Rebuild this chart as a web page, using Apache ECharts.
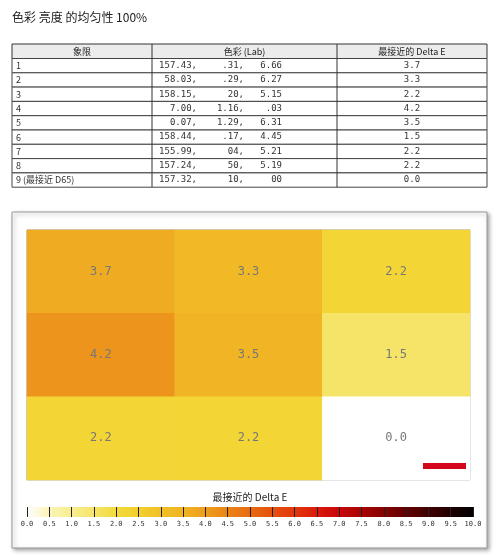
<!DOCTYPE html>
<html><head><meta charset="utf-8">
<script src="https://cdn.jsdelivr.net/npm/echarts@6/dist/echarts.min.js"></script>
<style>html,body{margin:0;padding:0;background:#fff}#main{width:500px;height:555px}</style>
</head><body><div id="main"></div>
<script>
var headers = ['象限', '色彩 (Lab)', '最接近的 Delta E'];
var quadrants = ['1', '2', '3', '4', '5', '6', '7', '8', '9 (最接近 D65)'];
var labL = ['157.43,', '58.03,', '158.15,', '7.00,', '0.07,', '158.44,', '155.99,', '157.24,', '157.32,'];
var labA = ['.31,', '.29,', '20,', '1.16,', '1.29,', '.17,', '04,', '50,', '10,'];
var labB = ['6.66', '6.27', '5.15', '.03', '6.31', '4.45', '5.21', '5.19', '00'];
var deltaE = ['3.7', '3.3', '2.2', '4.2', '3.5', '1.5', '2.2', '2.2', '0.0'];
// grid of delta E, rows top to bottom
var gridVals = [[3.7, 3.3, 2.2], [4.2, 3.5, 1.5], [2.2, 2.2, 0.0]];
var scaleColors = ['#ffffff','#fbf4b8','#f8ee90','#f5e468','#f3da3c','#f2cf2c','#f1c126','#f0b424','#ee9e1e','#ea8416','#e86a10','#e5520e','#e2380c','#da1a0a','#c80808','#a80505','#840303','#600202','#400101','#200000','#000000'];

var chart = echarts.init(document.getElementById('main'));
var g = [];
g.push({type:'text', left:12, top:11, style:{text:'色彩 亮度 的均匀性 100%', font:'12px "Noto Sans CJK SC"', fill:'#222'}});
var tx = 12, ty = 44, tw = 475, hh = 14.5, rh = 14.3;
var colX = [12, 152, 337, 487];
g.push({type:'rect', shape:{x:tx, y:ty, width:tw, height:hh}, style:{fill:'#ececec', stroke:'#333', lineWidth:1}});
for (var c = 0; c < 3; c++) {
  g.push({type:'text', x:(colX[c]+colX[c+1])/2, y:ty+hh/2, style:{text:headers[c], font:'9px "Noto Sans CJK SC"', fill:'#222', align:'center', verticalAlign:'middle'}});
}
for (var i = 0; i < quadrants.length; i++) {
  var y = ty + hh + i*rh;
  g.push({type:'rect', shape:{x:tx, y:y, width:tw, height:rh}, style:{fill:'#fff', stroke:'#444', lineWidth:1}});
  g.push({type:'text', x:16, y:y+rh/2, style:{text:quadrants[i], font:'9px "Noto Sans CJK SC"', fill:'#333', verticalAlign:'middle'}});
  g.push({type:'text', x:197, y:y+rh/2, style:{text:labL[i], font:'9px "DejaVu Sans Mono"', fill:'#333', align:'right', verticalAlign:'middle'}});
  g.push({type:'text', x:244, y:y+rh/2, style:{text:labA[i], font:'9px "DejaVu Sans Mono"', fill:'#333', align:'right', verticalAlign:'middle'}});
  g.push({type:'text', x:282, y:y+rh/2, style:{text:labB[i], font:'9px "DejaVu Sans Mono"', fill:'#333', align:'right', verticalAlign:'middle'}});
  g.push({type:'text', x:412, y:y+rh/2, style:{text:deltaE[i], font:'9px "DejaVu Sans Mono"', fill:'#333', align:'center', verticalAlign:'middle'}});
}
for (var c = 1; c < 3; c++) {
  g.push({type:'line', shape:{x1:colX[c], y1:ty, x2:colX[c], y2:ty+hh+9*rh}, style:{stroke:'#333', lineWidth:1}});
}
// chart frame
g.push({type:'rect', z:-10, shape:{x:12, y:212, width:475, height:336}, style:{fill:'#fff', stroke:'#999', lineWidth:1, shadowBlur:4, shadowOffsetX:2, shadowOffsetY:2, shadowColor:'rgba(0,0,0,0.35)'}});
g.push({type:'rect', z:100, shape:{x:423, y:463, width:43, height:6}, style:{fill:'#d4061c'}});
g.push({type:'text', x:250, y:497, style:{text:'最接近的 Delta E', font:'10px "Noto Sans CJK SC"', fill:'#222', align:'center', verticalAlign:'middle'}});

var heat = [];
for (var r = 0; r < 3; r++) for (var c = 0; c < 3; c++) heat.push([c, r, gridVals[r][c]]);
var stops = scaleColors.map(function (col, k) { return {offset:k/(scaleColors.length-1), color:col}; });

chart.setOption({
  animation:false,
  graphic:g,
  grid:[
    {left:27, right:30, top:230, height:250, show:true, borderColor:'#999', borderWidth:1},
    {left:27, right:27, top:507, height:10, show:true, borderWidth:0,
     backgroundColor:{type:'linear', x:0, y:0, x2:1, y2:0, colorStops:stops}}
  ],
  xAxis:[
    {type:'category', gridIndex:0, data:['a','b','c'], axisLabel:{show:false}, axisTick:{show:false}, axisLine:{show:false}, splitLine:{show:true, lineStyle:{color:'#ddd'}}},
    {type:'value', gridIndex:1, min:0, max:10, interval:0.5, axisLine:{show:false}, splitLine:{show:false},
     axisTick:{inside:true, length:10, lineStyle:{color:'#222'}},
     axisLabel:{fontSize:7, color:'#333', fontFamily:'DejaVu Sans Mono', margin:4, formatter:function(v){return v.toFixed(1);}}}
  ],
  yAxis:[
    {type:'category', gridIndex:0, inverse:true, data:['r1','r2','r3'], axisLabel:{show:false}, axisTick:{show:false}, axisLine:{show:false}, splitLine:{show:true, lineStyle:{color:'#ddd'}}},
    {type:'value', gridIndex:1, show:false}
  ],
  visualMap:{show:false, min:0, max:10, seriesIndex:0, inRange:{color:scaleColors}},
  series:[{
    type:'heatmap', xAxisIndex:0, yAxisIndex:0, data:heat,
    label:{show:true, color:'#777', fontSize:12, fontFamily:'DejaVu Sans Mono', formatter:function(p){return p.value[2].toFixed(1);}}
  }]
});
</script></body></html>
